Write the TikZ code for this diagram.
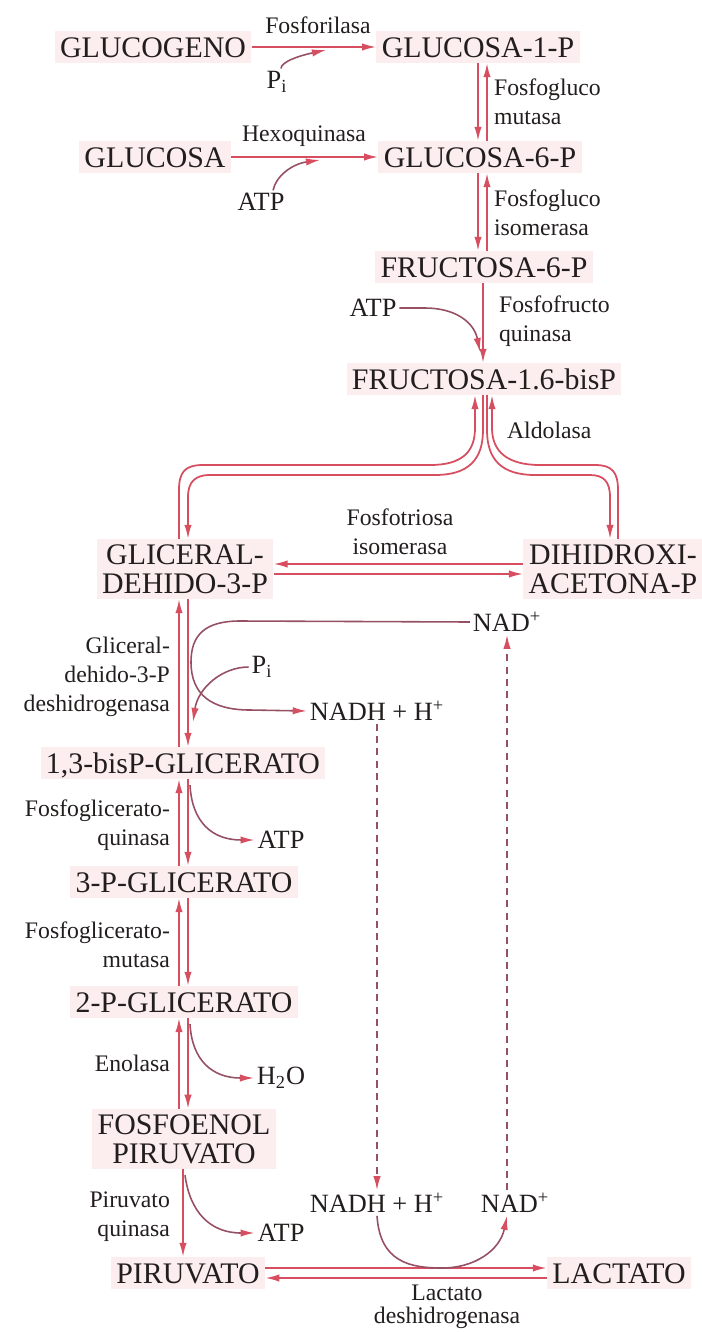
\documentclass[tikz,border=0pt]{standalone}
\usepackage{fontspec}
\setmainfont{Liberation Serif}
\usepackage{tikz}
\usetikzlibrary{arrows.meta,positioning,calc}

\definecolor{rxn}{RGB}{214,78,96}
\definecolor{cofline}{RGB}{150,80,100}
\definecolor{metbg}{RGB}{252,238,238}
\definecolor{ink}{RGB}{35,30,30}

\begin{document}
\begin{tikzpicture}[
    x=0.02cm, y=-0.02cm,
    every node/.style={text=ink},
    metbase/.style={
        inner sep=3pt, fill=metbg,
        font=\fontsize{17}{16.5}\selectfont
    },
    met/.style={metbase, text height=12pt, text depth=0pt},
    metpair/.style={metbase, align=center},
    cof/.style={inner sep=1.5pt, font=\fontsize{15}{16}\selectfont},
    enz/.style={inner sep=1pt, font=\fontsize{13.5}{16.4}\selectfont},
    arr/.style={draw=rxn, line width=1pt, -{Latex[length=8pt,width=4.2pt]}},
    carr/.style={draw=cofline, line width=0.9pt, -{Latex[length=8pt,width=4.2pt,color=rxn]}},
    darr/.style={draw=cofline, line width=0.9pt, dash pattern=on 4pt off 3pt,
        -{Latex[length=8pt,width=4.2pt,color=rxn]}}
]
\useasboundingbox (0,0) rectangle (701,1332);

% --- columns of the double arrows ---
\coordinate (colA) at (478,0);
\coordinate (colB) at (487,0);
\coordinate (colC) at (483,0);
\coordinate (colL) at (179,0);
\coordinate (colR) at (188,0);
\coordinate (colM) at (183,0);
\coordinate (colD) at (610,0);
\coordinate (colE) at (618,0);

% --- Metabolites ---
\node[met] (glucogeno) at (153,47) {GLUCOGENO};
\node[met] (g1p) at (478,47) {GLUCOSA-1-P};
\node[met] (glucosa) at (155,157) {GLUCOSA};
\node[met] (g6p) at (480,157) {GLUCOSA-6-P};
\node[met] (f6p) at (484,267) {FRUCTOSA-6-P};
\node[met] (f16bp) at (484,379) {FRUCTOSA-1.6-bisP};
\node[metpair] (gap) at (185,569) {GLICERAL-\\DEHIDO-3-P};
\node[metpair] (dhap) at (613,569) {DIHIDROXI-\\ACETONA-P};
\node[met] (bpg) at (183,763) {1,3-bisP-GLICERATO};
\node[met] (pg3) at (184,882) {3-P-GLICERATO};
\node[met] (pg2) at (184,1002) {2-P-GLICERATO};
\node[metpair] (pep) at (184,1139) {FOSFOENOL\\PIRUVATO};
\node[met] (pir) at (188,1273) {PIRUVATO};
\node[met] (lac) at (619,1273) {LACTATO};

% --- Cofactors ---
\node[cof] (pi1) at (277,82) {P\textsubscript{i}};
\node[cof] (atp1) at (261,202) {ATP};
\node[cof] (atp2) at (373,308) {ATP};
\node[cof] (nad1) at (507,622) {NAD\textsuperscript{+}};
\node[cof] (pi2) at (262,667) {P\textsubscript{i}};
\node[cof] (nadh1) at (377,711) {NADH + H\textsuperscript{+}};
\node[cof] (atp3) at (281,840) {ATP};
\node[cof] (h2o) at (281,1078) {H\textsubscript{2}O};
\node[cof] (nadh2) at (377,1203) {NADH + H\textsuperscript{+}};
\node[cof] (nad2) at (515,1203) {NAD\textsuperscript{+}};
\node[cof] (atp4) at (281,1233) {ATP};

% --- Enzymes ---
\node[enz] (fosforilasa) at (318,25) {Fosforilasa};
\node[enz] (hexoquinasa) at (304,136) {Hexoquinasa};
\node[enz, anchor=west, align=left] (pglm) at (492,102) {Fosfogluco\\mutasa};
\node[enz, anchor=west, align=left] (pgi) at (492,213) {Fosfogluco\\isomerasa};
\node[enz, anchor=west, align=left] (pfk) at (497,321) {Fosfofructo\\quinasa};
\node[enz, anchor=west] (aldolasa) at (505,430) {Aldolasa};
\node[enz, align=center] (tpi) at (400,532) {Fosfotriosa\\isomerasa};
\node[enz, anchor=east, align=right] (gapdh) at (172,677) {Gliceral-\\dehido-3-P\\deshidrogenasa};
\node[enz, anchor=east, align=right] (pgk) at (172,825) {Fosfoglicerato-\\quinasa};
\node[enz, anchor=east, align=right] (pgam) at (172,945) {Fosfoglicerato-\\mutasa};
\node[enz, anchor=east] (enolasa) at (172,1063) {Enolasa};
\node[enz, anchor=east, align=right] (pk) at (172,1217) {Piruvato\\quinasa};
\node[enz, align=center] (ldh) at (447,1307) {Lactato\\[-3pt]deshidrogenasa};

% --- Glucogeno and glucosa ---
\draw[arr] (glucogeno) -- (g1p);
\draw[carr] ($(pi1.north)+(4,0)$) .. controls (281,62) and (298,56) .. (326,50);
\draw[arr] (glucosa) -- (g6p);
\draw[carr] ($(atp1.north)+(12,0)$) .. controls (276,176) and (292,164) .. (320,160);

% --- Hexosas ---
\draw[arr] (g1p.south -| colA) -- (g6p.north -| colA);
\draw[arr] (g6p.north -| colB) -- (g1p.south -| colB);
\draw[arr] (g6p.south -| colA) -- (f6p.north -| colA);
\draw[arr] (f6p.north -| colB) -- (g6p.south -| colB);
\draw[arr] (f6p.south -| colC) -- (f16bp.north -| colC);
\draw[carr] (atp2.east) -- (425,308) .. controls (455,308) and (474,322) .. (480,352);

% --- Aldolasa (two double branches) ---
\draw[arr] (gap.north -| colL) -- (179,490) .. controls (179,472) and (185,465) .. (203,465)
    -- (430,465) .. controls (462,465) and (475,452) .. (475,428) -- ($(f16bp.south)+(-9,0)$);
\draw[arr] ($(f16bp.south)+(-1,0)$) -- (483,430) .. controls (483,460) and (468,475) .. (435,475)
    -- (210,475) .. controls (195,475) and (188,482) .. (188,497) -- (gap.north -| colR);
\draw[arr] ($(f16bp.south)+(3,0)$) -- (487,430) .. controls (487,460) and (502,475) .. (535,475)
    -- (590,475) .. controls (604,475) and (610,482) .. (610,497) -- (dhap.north -| colD);
\draw[arr] (dhap.north -| colE) -- (618,490) .. controls (618,472) and (612,465) .. (595,465)
    -- (540,465) .. controls (508,465) and (492,452) .. (492,428) -- ($(f16bp.south)+(8,0)$);

% --- Fosfotriosa isomerasa ---
\draw[arr] ($(dhap.west)+(0,-5)$) -- ($(gap.east)+(0,-5)$);
\draw[arr] ($(gap.east)+(0,5)$) -- ($(dhap.west)+(0,5)$);

% --- Gliceraldehido-3-P deshidrogenasa ---
\draw[arr] (bpg.north -| colL) -- (gap.south -| colL);
\draw[arr] (gap.south -| colR) -- (bpg.north -| colR);
\draw[carr] (nad1.west) -- (240,621) .. controls (205,621) and (191,635) .. (191,662)
    .. controls (191,695) and (212,710) .. (250,710) -- (nadh1.west);
\draw[carr] (pi2.west) .. controls (222,667) and (198,688) .. (193,722);

% --- Fosfoglicerato quinasa / mutasa, enolasa ---
\draw[arr] (pg3.north -| colL) -- (bpg.south -| colL);
\draw[arr] (bpg.south -| colR) -- (pg3.north -| colR);
\draw[carr] ($(bpg.south -| colR)+(2,6)$) .. controls (192,822) and (212,840) .. (atp3.west);
\draw[arr] (pg2.north -| colL) -- (pg3.south -| colL);
\draw[arr] (pg3.south -| colR) -- (pg2.north -| colR);
\draw[arr] (pep.north -| colL) -- (pg2.south -| colL);
\draw[arr] (pg2.south -| colR) -- (pep.north -| colR);
\draw[carr] ($(pg2.south -| colR)+(2,6)$) .. controls (192,1060) and (212,1078) .. (h2o.west);

% --- Piruvato quinasa ---
\draw[arr] (pep.south -| colM) -- (pir.north -| colM);
\draw[carr] ($(pep.south -| colM)+(2,6)$) .. controls (190,1212) and (210,1233) .. (atp4.west);

% --- Lactato deshidrogenasa ---
\draw[arr] ($(pir.east)+(0,-5)$) -- ($(lac.west)+(0,-5)$);
\draw[arr] ($(lac.west)+(0,5)$) -- ($(pir.east)+(0,5)$);
\draw[carr] (nadh2.south) .. controls (380,1262) and (410,1268) .. (442,1268)
    .. controls (475,1268) and (500,1250) .. ($(nad2.south)+(-8,0)$);

% --- NADH / NAD+ shuttle ---
\draw[darr] (nadh1.south) -- (nadh2.north);
\draw[darr] (nad2.north -| nad1.south) -- (nad1.south);

\end{tikzpicture}
\end{document}
